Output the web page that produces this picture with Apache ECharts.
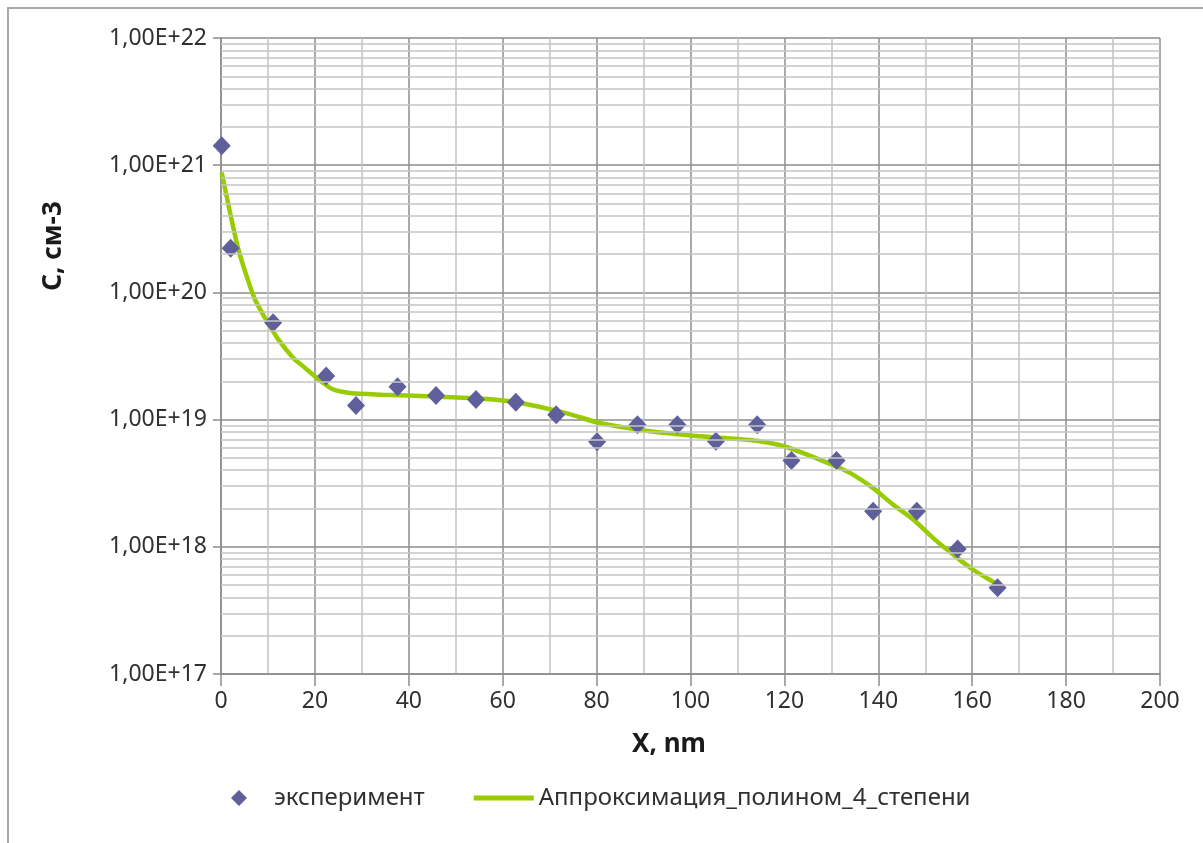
<!DOCTYPE html>
<html>
<head>
<meta charset="utf-8">
<script src="https://cdn.jsdelivr.net/npm/echarts@6/dist/echarts.min.js"></script>
<style>
html,body{margin:0;padding:0;background:#fff;}
#frame{position:absolute;left:7px;top:7px;width:1196px;height:836px;border-left:2px solid #a8a8a8;border-top:2px solid #a8a8a8;box-sizing:border-box;}
#chart{position:absolute;left:0;top:0;width:1203px;height:843px;}
</style>
</head>
<body>
<div id="frame"></div>
<div id="chart"></div>
<script>
// Experimental points (X, nm ; C, cm-3)
var expX = [0.15, 2.06, 11.1, 22.4, 28.75, 37.6, 45.8, 54.3, 62.8, 71.4, 80.1, 88.7, 97.2, 105.4, 114.2, 121.5, 131.1, 138.9, 148.2, 156.9, 165.4];
var expC = [1.42e21, 2.22e20, 5.78e19, 2.2e19, 1.29e19, 1.81e19, 1.55e19, 1.44e19, 1.37e19, 1.09e19, 6.7e18, 9.1e18, 9.1e18, 6.75e18, 9.1e18, 4.76e18, 4.76e18, 1.9e18, 1.9e18, 9.6e17, 4.76e17];
// Approximation curve
var fitX = [0.15, 1.92, 3.68, 5.47, 7.24, 10.07, 12.2, 15.4, 17.5, 21.7, 24, 27.5, 34.5, 45.2, 55.8, 63, 73.7, 80.7, 91.4, 102, 112.7, 119.7, 127.6, 131.1, 134.7, 138.9, 143.2, 147.5, 151.7, 156, 160.2, 164.5, 165.4];
var fitC = [8.77e20, 4.25e20, 2.19e20, 1.34e20, 8.8e19, 5.7e19, 4.27e19, 3.05e19, 2.62e19, 1.95e19, 1.72e19, 1.62e19, 1.57e19, 1.52e19, 1.46e19, 1.37e19, 1.12e19, 9.4e18, 8.1e18, 7.4e18, 6.9e18, 6.2e18, 4.83e18, 4.28e18, 3.68e18, 2.89e18, 2.14e18, 1.63e18, 1.17e18, 8.65e17, 6.6e17, 5.3e17, 5.1e17];
// Axis settings
var xTicks = [0, 20, 40, 60, 80, 100, 120, 140, 160, 180, 200];
var yDecades = [17, 18, 19, 20, 21, 22];
var seriesNames = ['эксперимент', 'Аппроксимация_полином_4_степени'];

var minorY = [];
for (var d = 0; d < yDecades.length - 1; d++) {
  for (var k = 2; k <= 9; k++) minorY.push({yAxis: k * Math.pow(10, yDecades[d])});
}

var chart = echarts.init(document.getElementById('chart'), null, {renderer: 'canvas'});
var font = "'Noto Sans', sans-serif";
chart.setOption({
  animation: false,
  backgroundColor: 'transparent',
  grid: {left: 221, top: 38, right: 43, bottom: 169},
  xAxis: {
    type: 'value', min: xTicks[0], max: xTicks[xTicks.length - 1], interval: 20,
    axisLine: {show: true, lineStyle: {color: '#8c8c8c', width: 1.5}},
    axisTick: {show: true, length: 12, lineStyle: {color: '#8c8c8c', width: 1.5}},
    axisLabel: {color: '#303030', fontFamily: font, fontSize: 23, margin: 16},
    splitLine: {show: true, lineStyle: {color: '#8c8c8c', width: 1.5}},
    minorTick: {show: false, splitNumber: 2},
    minorSplitLine: {show: true, lineStyle: {color: '#c4c4c4', width: 1.5}}
  },
  yAxis: {
    type: 'log', logBase: 10,
    min: Math.pow(10, yDecades[0]), max: Math.pow(10, yDecades[yDecades.length - 1]),
    axisLine: {show: true, lineStyle: {color: '#8c8c8c', width: 1.5}},
    axisTick: {show: true, length: 8, lineStyle: {color: '#8c8c8c', width: 1.5}},
    axisLabel: {color: '#303030', fontFamily: font, fontSize: 23, margin: 14,
      formatter: function (v) { return '1,00E+' + Math.round(Math.log10(v)); }},
    splitLine: {show: true, lineStyle: {color: '#8c8c8c', width: 1.5}}
  },
  legend: {
    left: 226, top: 781, itemWidth: 60, itemHeight: 16, itemGap: 49,
    textStyle: {color: '#303030', fontFamily: font, fontSize: 24},
    data: [
      {name: seriesNames[0], icon: 'path://M8,0 L16,8 L8,16 L0,8 Z'},
      {name: seriesNames[1], icon: 'path://M0,0 L60,0 L60,5 L0,5 Z'}
    ]
  },
  graphic: [
    {type: 'text', x: 54, y: 246, rotation: Math.PI / 2,
      style: {text: 'С, см-3', font: "bold 26px 'Noto Sans', sans-serif", fill: '#1a1a1a', textAlign: 'center', textVerticalAlign: 'middle'}},
    {type: 'text', x: 669, y: 745,
      style: {text: 'X, nm', font: "bold 26px 'Noto Sans', sans-serif", fill: '#1a1a1a', textAlign: 'center', textVerticalAlign: 'middle'}}
  ],
  series: [
    {
      name: 'minor', type: 'line', data: [], silent: true, z: 1,
      markLine: {silent: true, symbol: ['none', 'none'], label: {show: false},
        lineStyle: {color: '#c4c4c4', width: 1.5, type: 'solid'}, emphasis: {disabled: true},
        data: minorY}
    },
    {
      name: seriesNames[1], type: 'line', z: 3, smooth: 0.3, symbol: 'none', showSymbol: false,
      lineStyle: {color: '#99cc00', width: 4.5}, itemStyle: {color: '#99cc00'},
      data: fitX.map(function (x, i) { return [x, fitC[i]]; })
    },
    {
      name: seriesNames[0], type: 'scatter', z: 4, symbol: 'diamond', symbolSize: [18, 19],
      itemStyle: {color: '#5f5f9b', opacity: 1},
      data: expX.map(function (x, i) { return [x, expC[i]]; })
    }
  ]
});
</script>
</body>
</html>
